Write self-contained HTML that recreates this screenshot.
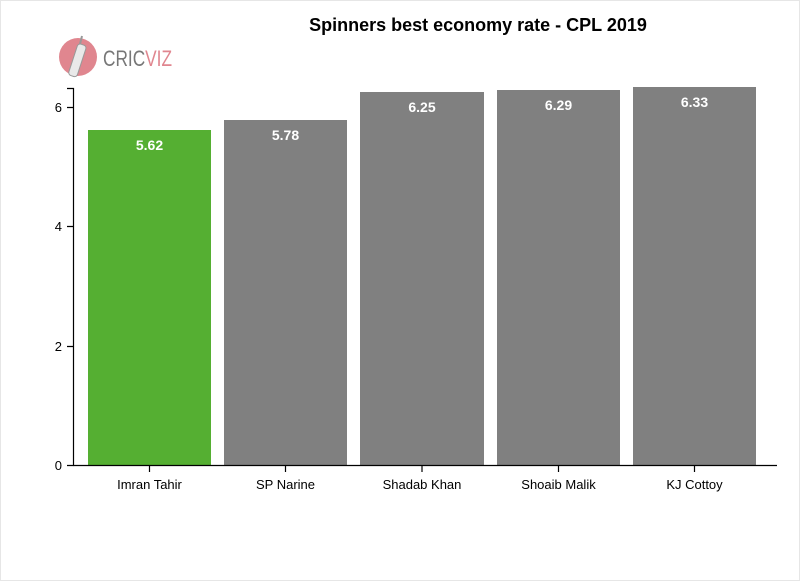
<!DOCTYPE html>
<html><head><style>
body{margin:0;width:800px;height:581px;overflow:hidden;background:#fff;}
svg{display:block;}
text{font-family:"Liberation Sans",Arial,sans-serif;}
</style></head><body>
<svg width="800" height="581" viewBox="0 0 800 581">
<rect x="0.5" y="0.5" width="799" height="580" fill="#fff" stroke="#e6e6e6"/>
<text x="478" y="31" font-size="18" font-weight="bold" text-anchor="middle">Spinners best economy rate - CPL 2019</text>
<g>
<circle cx="78" cy="57" r="19" fill="#e0868f"/>
<rect x="73" y="44" width="9" height="33" rx="3" fill="#e9e9e9" stroke="#999" stroke-width="1" transform="rotate(18 78 60)"/>
<line x1="82" y1="36" x2="80" y2="44" stroke="#999" stroke-width="2"/>
<text x="103" y="66" font-size="22" fill="#777" textLength="69" lengthAdjust="spacingAndGlyphs">CRIC<tspan fill="#e0868f">VIZ</tspan></text>
</g>
<g fill="#808080">
<rect x="88" y="130" width="123" height="335" fill="#55af32"/>
<rect x="224" y="120" width="123" height="345"/>
<rect x="360" y="92" width="124" height="373"/>
<rect x="497" y="90" width="123" height="375"/>
<rect x="633" y="87" width="123" height="378"/>
</g>
<g fill="#fff" font-size="14" font-weight="bold" text-anchor="middle">
<text x="149.5" y="150">5.62</text>
<text x="285.5" y="140">5.78</text>
<text x="422" y="112">6.25</text>
<text x="558.5" y="110">6.29</text>
<text x="694.5" y="107">6.33</text>
</g>
<g stroke="#000" stroke-width="1.2" fill="none">
<path d="M67,88.5H73.5V465.5H67"/>
<path d="M73.5,465.5H777"/>
<path d="M67,107.5H73.5M67,226.5H73.5M67,346.5H73.5"/>
<path d="M149.5,465V472M285.5,465V472M422,465V472M558.5,465V472M694.5,465V472"/>
</g>
<g font-size="13" text-anchor="end">
<text x="62" y="112">6</text>
<text x="62" y="231">4</text>
<text x="62" y="351">2</text>
<text x="62" y="470">0</text>
</g>
<g font-size="13" text-anchor="middle">
<text x="149.5" y="489">Imran Tahir</text>
<text x="285.5" y="489">SP Narine</text>
<text x="422" y="489">Shadab Khan</text>
<text x="558.5" y="489">Shoaib Malik</text>
<text x="694.5" y="489">KJ Cottoy</text>
</g>
</svg>
</body></html>
